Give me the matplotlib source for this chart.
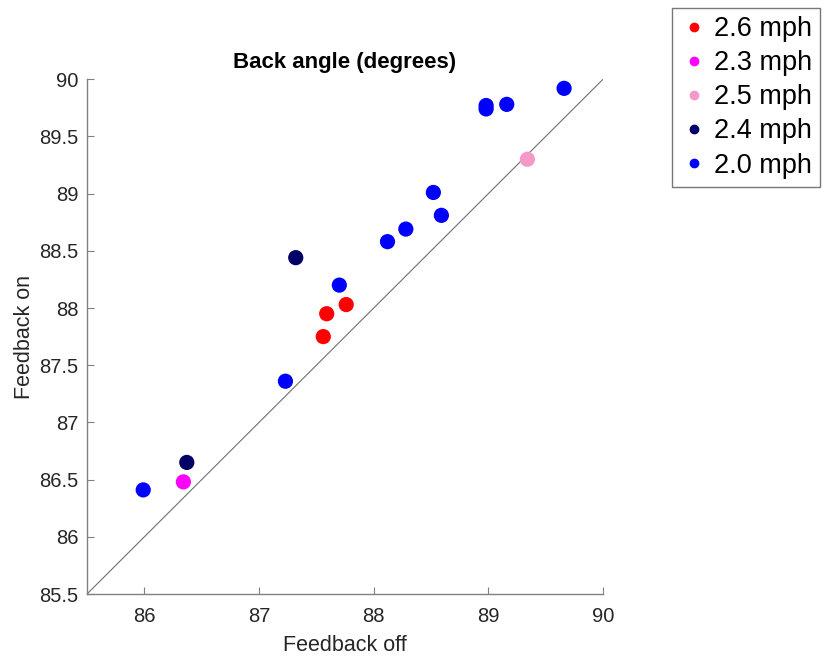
import matplotlib.pyplot as plt

plt.rcParams['font.family'] = ['Liberation Sans', 'DejaVu Sans']

# speeds and their colours, in legend order
speeds = ["2.6 mph", "2.3 mph", "2.5 mph", "2.4 mph", "2.0 mph"]
colors = ["#ff0000", "#ff00ff", "#f59ac8", "#000066", "#0000ff"]

# back angle with feedback off / on, per speed
off_26 = [87.56, 87.59, 87.76]
on_26 = [87.75, 87.95, 88.03]
off_23 = [86.34]
on_23 = [86.48]
off_25 = [89.34]
on_25 = [89.30]
off_24 = [87.32, 86.37]
on_24 = [88.44, 86.65]
off_20 = [85.99, 87.23, 87.70, 88.12, 88.28, 88.52, 88.59, 88.98, 88.98, 89.16, 89.66]
on_20 = [86.41, 87.36, 88.20, 88.58, 88.69, 89.01, 88.81, 89.77, 89.74, 89.78, 89.92]

xs = [off_26, off_23, off_25, off_24, off_20]
ys = [on_26, on_23, on_25, on_24, on_20]

lims = [85.5, 90]

fig = plt.figure(figsize=(8.25, 6.6), dpi=100)
ax = fig.add_axes([0.1055, 0.1, 0.6255, 0.78])

# identity line
ax.plot(lims, lims, color="#707070", lw=0.8, zorder=1)

handles = []
for x, y, c, lab in zip(xs, ys, colors, speeds):
    ax.scatter(x, y, s=120, color=c, edgecolors="none", zorder=3)
    h, = ax.plot([], [], "o", color=c, markersize=6, label=lab)
    handles.append(h)

ax.set_xlim(lims)
ax.set_ylim(lims)
ax.set_xticks([86, 87, 88, 89, 90])
ax.set_yticks([85.5, 86, 86.5, 87, 87.5, 88, 88.5, 89, 89.5, 90])
ax.set_yticklabels(["85.5", "86", "86.5", "87", "87.5", "88", "88.5", "89", "89.5", "90"])

for s in ["top", "right"]:
    ax.spines[s].set_visible(False)
for s in ["left", "bottom"]:
    ax.spines[s].set_color("#808080")
    ax.spines[s].set_linewidth(1.0)
ax.tick_params(direction="in", length=5, color="#808080", labelsize=14.5,
               labelcolor="#262626")
ax.tick_params(axis="x", pad=9)
ax.tick_params(axis="y", pad=6)

ax.set_xlabel("Feedback off", fontsize=15.5, color="#262626", labelpad=7)
ax.set_ylabel("Feedback on", fontsize=15.5, color="#262626", labelpad=3)
ax.set_title("Back angle (degrees)", fontsize=16, fontweight="bold", pad=8)

leg = fig.legend(handles=handles, loc="upper left", bbox_to_anchor=(0.8145, 0.988),
                 fontsize=19.5, frameon=True, fancybox=False, handletextpad=0.25,
                 handlelength=1.0, borderpad=0.3, labelspacing=0.3,
                 borderaxespad=0)
leg.get_frame().set_edgecolor("#555555")
leg.get_frame().set_linewidth(1.0)

fig.savefig("out.png", dpi=100)
